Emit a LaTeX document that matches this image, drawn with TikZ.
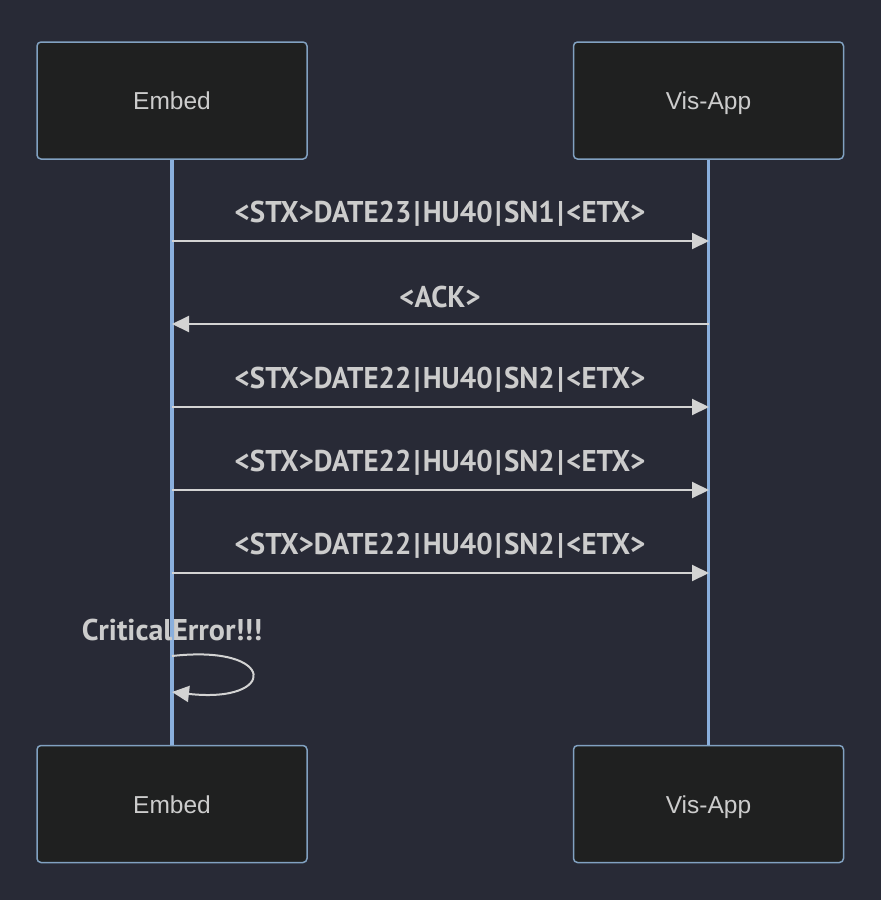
\documentclass[tikz,border=0pt]{standalone}
\usepackage{fontspec}
\setmainfont{Liberation Sans}
\newfontfamily\lblfont{PT Sans}
\usetikzlibrary{arrows.meta}
\definecolor{bgc}{HTML}{282A36}
\definecolor{boxfill}{HTML}{1F2020}
\definecolor{boxline}{HTML}{81A1C1}
\definecolor{lifec}{HTML}{8AAFDD}
\definecolor{txtc}{HTML}{CCCCCC}
\definecolor{msgc}{HTML}{D3D3D3}
\newcommand{\pp}{\kern2.5pt|\kern2.5pt}
\tikzset{
  x=1pt,y=-1pt,
  actor/.style={draw=boxline,fill=boxfill,line width=1.5pt,rounded corners=4pt,minimum width=270pt,minimum height=117pt,inner sep=0pt,text=txtc,font=\fontsize{24.5}{28}\selectfont,text height=18pt,text depth=0pt},
  life/.style={draw=lifec,line width=3.5pt},
  msg/.style={draw=msgc,line width=2pt,-{Triangle[length=17pt,width=16pt]}},
  mlabel/.style={text=txtc,font=\lblfont\bfseries\fontsize{30}{34}\selectfont,inner sep=0pt}
}
\begin{document}
\begin{tikzpicture}
\fill[bgc] (0,0) rectangle (881,900);
\useasboundingbox (0,0) rectangle (881,900);
\node[actor] (e1) at (172,100.5) {Embed};
\node[actor] (v1) at (708.5,100.5) {Vis-App};
\node[actor] (e2) at (172,804) {Embed};
\node[actor] (v2) at (708.5,804) {Vis-App};
\draw[life] (e1.south) -- (e2.north);
\draw[life] (v1.south) -- (v2.north);
\coordinate (a1) at (172,241); \coordinate (b1) at (709,241);
\coordinate (a2) at (172,324); \coordinate (b2) at (709,324);
\coordinate (a3) at (172,407); \coordinate (b3) at (709,407);
\coordinate (a4) at (172,490); \coordinate (b4) at (709,490);
\coordinate (a5) at (172,573); \coordinate (b5) at (709,573);
\draw[msg] (a1) -- (b1);
\draw[msg] (b2) -- (a2);
\draw[msg] (a3) -- (b3);
\draw[msg] (a4) -- (b4);
\draw[msg] (a5) -- (b5);
\node[mlabel] (l1) at (440,214) {\scalebox{0.965}[1]{<STX>DATE23\pp HU40\pp SN1\pp<ETX>}};
\node[mlabel] (l2) at (440,297) {\scalebox{0.965}[1]{<ACK>}};
\node[mlabel] (l3) at (440,380) {\scalebox{0.965}[1]{<STX>DATE22\pp HU40\pp SN2\pp<ETX>}};
\node[mlabel] (l4) at (440,463) {\scalebox{0.965}[1]{<STX>DATE22\pp HU40\pp SN2\pp<ETX>}};
\node[mlabel] (l5) at (440,546) {\scalebox{0.965}[1]{<STX>DATE22\pp HU40\pp SN2\pp<ETX>}};
\node[mlabel] (l6) at (172,630) {CriticalError!!!};
\coordinate (s1) at (172,656); \coordinate (s2) at (172,692);
\draw[msg] (s1) .. controls (278,644) and (278,704) .. (s2);
\end{tikzpicture}
\end{document}
